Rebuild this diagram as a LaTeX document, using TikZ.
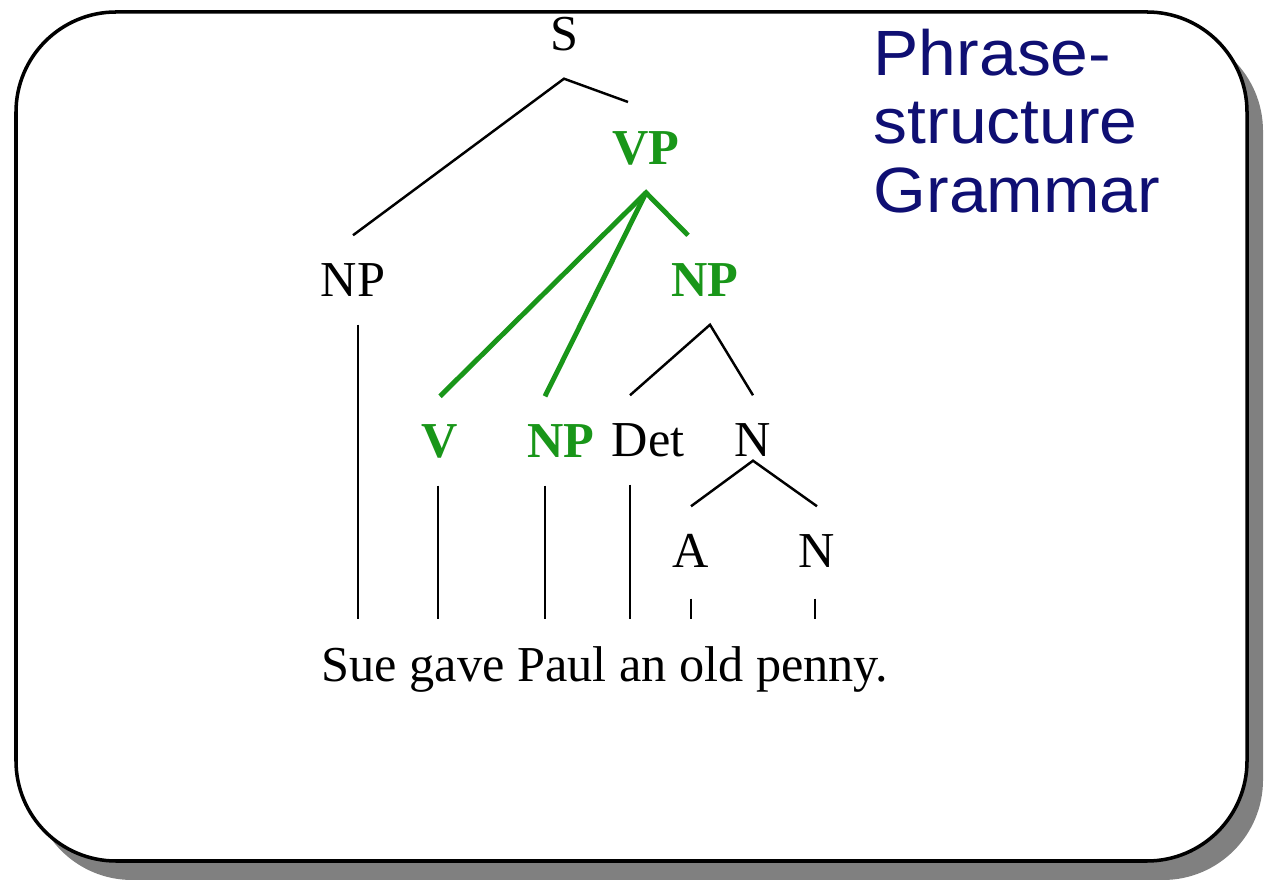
\documentclass[tikz,border=0pt]{standalone}
\usepackage{fontspec}
\setmainfont{Liberation Serif}
\newfontfamily\titlefont[FakeStretch=1.06]{Liberation Sans}
\usetikzlibrary{positioning}
\definecolor{treegreen}{RGB}{25,150,25}
\definecolor{titleblue}{RGB}{15,15,115}
\tikzset{
  cat/.style={font=\fontsize{14.3}{16}\selectfont, text height=9.4pt, text depth=0pt,
    minimum height=0.88cm, inner sep=0pt},
  head/.style={cat, font=\fontsize{14.3}{16}\selectfont\bfseries, text=treegreen},
  branch/.style={line width=0.7pt},
  headbranch/.style={draw=treegreen, line width=1.4pt},
}
\begin{document}
\begin{tikzpicture}[x=0.01cm,y=-0.01cm]
\useasboundingbox (0,0) rectangle (1264,880);

\fill[black!50, rounded corners=1cm] (32,31) rectangle (1263,880);
\draw[line width=1pt, fill=white, rounded corners=1cm] (16,12) rectangle (1247,861);

\node[anchor=north west, inner sep=0pt, align=left, text=titleblue,
  font=\titlefont\fontsize{18.2}{19.6}\selectfont] (title) at (873,28) {Phrase-\\structure\\Grammar};

\node[cat] (S) at (564,34) {S};
\node[head] (VP) at (646,148) {VP};
\node[cat] (NPs) at (353,280) {NP};
\node[head] (NPo) at (705,280) {NP};
\node[head] (V) at (440,441) {V};
\node[head] (NPi) at (561,441) {NP};
\node[cat] (Det) at (648,440) {Det};
\node[cat] (N) at (753,440) {N};
\node[cat] (A) at (691,551) {A};
\node[cat] (Nh) at (817,551) {N};
\node[anchor=base west, inner xsep=0pt, inner ysep=0.27cm,
  font=\fontsize{14.3}{16}\selectfont] (words) at (321,682) {Sue gave Paul an old penny.};
\coordinate (stub) at (628,102);

\draw[branch] (NPs.north) -- (S.south) -- (stub);
\draw[headbranch] (V.north) -- (VP.south) -- ([xshift=-0.17cm]NPo.north);
\draw[headbranch] ([xshift=-0.16cm]NPi.north) -- (VP.south);
\draw[branch] ([xshift=-0.18cm]Det.north) -- ([xshift=0.05cm]NPo.south) -- (N.north);
\draw[branch] (A.north) -- ([yshift=0.24cm]N.south) -- (Nh.north);

\draw[branch] ([xshift=0.05cm]NPs.south) -- ([xshift=0.05cm]NPs.south |- words.north);
\draw[branch] ([xshift=-0.02cm]V.south) -- ([xshift=-0.02cm]V.south |- words.north);
\draw[branch] ([xshift=-0.16cm]NPi.south) -- ([xshift=-0.16cm]NPi.south |- words.north);
\draw[branch] ([xshift=-0.18cm]Det.south) -- ([xshift=-0.18cm]Det.south |- words.north);
\draw[branch] ([yshift=-0.03cm]A.south) -- (A.south |- words.north);
\draw[branch] ([xshift=-0.02cm,yshift=-0.03cm]Nh.south) -- ([xshift=-0.02cm]Nh.south |- words.north);

\end{tikzpicture}
\end{document}
